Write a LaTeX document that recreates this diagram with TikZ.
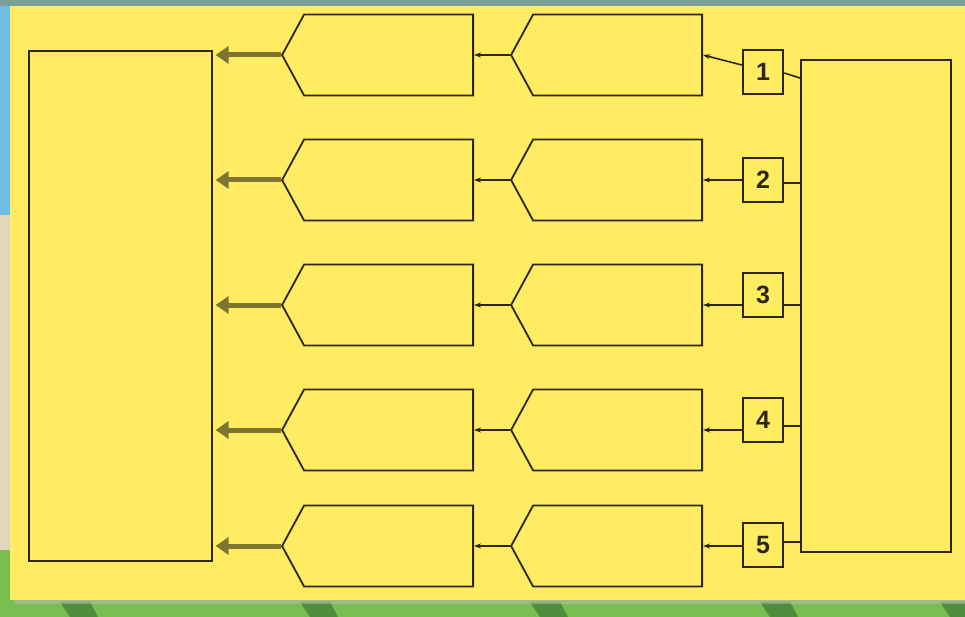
\documentclass[tikz,border=0pt]{standalone}
\usepackage{fontspec}
\newfontfamily\numfont{Liberation Sans}
\usetikzlibrary{shapes.symbols,arrows.meta,calc}
\definecolor{cardyellow}{RGB}{255,236,98}
\definecolor{ink}{RGB}{45,38,12}
\definecolor{olivearrow}{RGB}{125,117,48}
\definecolor{skyblue}{RGB}{110,190,225}
\definecolor{grassgreen}{RGB}{120,190,80}
\definecolor{darkgrass}{RGB}{80,140,60}
\definecolor{beige}{RGB}{225,215,190}
\definecolor{topband}{RGB}{120,160,150}
\tikzset{
  bigbox/.style={draw=ink, line width=1.6pt, fill=cardyellow},
  pent/.style={shape=signal, signal to=west, signal from=nowhere, signal pointer angle=123,
    draw=ink, line width=1.8pt, minimum width=191pt, minimum height=81pt, inner sep=0pt},
  numbox/.style={draw=ink, line width=2.5pt, minimum width=40pt, minimum height=44pt, inner sep=0pt,
    font=\numfont\bfseries\fontsize{25}{25}\selectfont, text=ink},
  thickarrow/.style={draw=olivearrow, line width=5pt, -{Triangle[length=13pt,width=17pt]}, shorten >=3pt},
  thinarrow/.style={draw=ink, line width=1.6pt, -{Stealth[length=7pt,width=5pt]}},
  link/.style={draw=ink, line width=1.6pt}
}
\begin{document}
\begin{tikzpicture}[x=1pt,y=-1pt]
\useasboundingbox (0,0) rectangle (965,617);
% background scene
\fill[grassgreen] (0,0) rectangle (965,617);
\fill[skyblue] (0,0) rectangle (12,215);
\fill[beige] (0,215) rectangle (12,550);
\fill[topband] (0,0) rectangle (965,6);
\foreach \x in {60,300,530,760,940} {
  \fill[darkgrass] (\x,602) -- (\x+30,602) -- (\x+38,617) -- (\x+10,617) -- cycle;
}
\fill[black!25, opacity=0.5] (14,10) rectangle (965,604);
\fill[cardyellow] (10,6) rectangle (965,600);
% main boxes
\node[bigbox, minimum width=183pt, minimum height=510pt, inner sep=0pt, anchor=north west] (L) at (28,50) {};
\node[bigbox, minimum width=150pt, minimum height=492pt, inner sep=0pt, anchor=north west] (R) at (800,59) {};
% rows: index / row y / box centre y / left-link offset / right-link offset / right-end extra
\foreach \i/\y/\by/\dl/\dr/\de in {1/55/72/-7/1/5, 2/180/180/0/3/0, 3/305/295/10/10/0, 4/430/420/10/6/0, 5/546/545/1/-3/0} {
  \node[pent, anchor=east] (A\i) at (474,\y) {};
  \node[pent, anchor=east] (B\i) at (703,\y) {};
  \node[numbox] (N\i) at (763,\by) {\i};
  \draw[thickarrow] (A\i.west) -- (L.east |- A\i.west);
  \draw[thinarrow] (B\i.west) -- (A\i.east);
  \draw[thinarrow] ($(N\i.west)+(0,\dl)$) -- (B\i.east);
  \draw[link] ($(N\i.east)+(0,\dr)$) coordinate (s\i) -- ($(R.west |- s\i)+(0,\de)$);
}
\end{tikzpicture}
\end{document}
